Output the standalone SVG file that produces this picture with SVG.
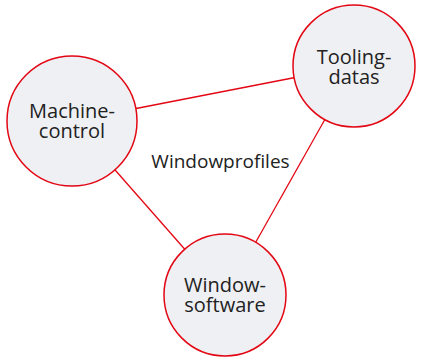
<svg xmlns="http://www.w3.org/2000/svg" width="422" height="361" viewBox="0 0 422 361">
<style>
.node circle{fill:#eef0f3;stroke:#e30613;stroke-width:1.5}
.edge{stroke:#e30613;stroke-width:1.3;fill:none}
text{font-family:"Open Sans","Liberation Sans",sans-serif;fill:#222;text-anchor:middle}
.lbl{font-size:20px}
.mid{font-size:19px}
</style>
<rect width="422" height="361" fill="#fff"/>
<g id="connectors">
<line class="edge" x1="72" y1="121" x2="354" y2="66"/>
<line class="edge" x1="72" y1="121" x2="225" y2="295"/>
<line class="edge" x1="355" y1="66" x2="226" y2="295"/>
</g>
<g id="machine-control" class="node">
<circle cx="72" cy="121" r="65"/>
<text class="lbl" x="72" y="118">Machine-</text>
<text class="lbl" x="72" y="138">control</text>
</g>
<g id="tooling-datas" class="node">
<circle cx="354" cy="66" r="61"/>
<text class="lbl" x="354" y="64">Tooling-</text>
<text class="lbl" x="354" y="84">datas</text>
</g>
<g id="window-software" class="node">
<circle cx="225" cy="295" r="61"/>
<text class="lbl" x="225" y="292">Window-</text>
<text class="lbl" x="225" y="312">software</text>
</g>
<text class="mid" x="220.5" y="168">Windowprofiles</text>
</svg>
